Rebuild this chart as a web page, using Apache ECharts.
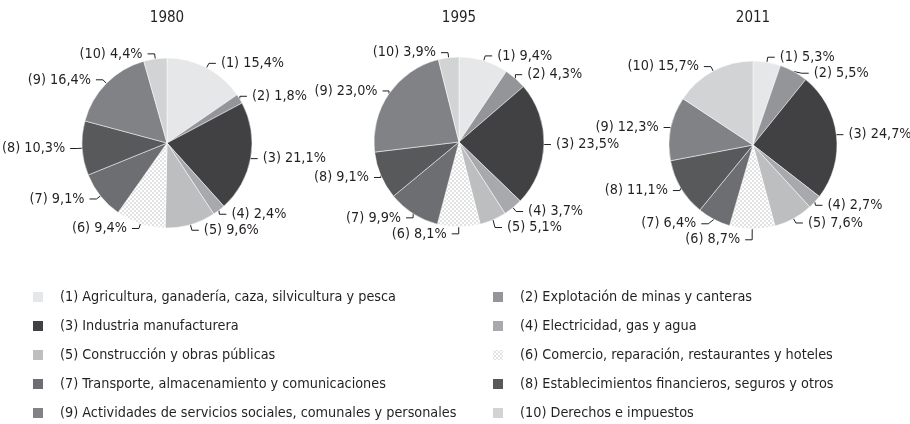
<!DOCTYPE html>
<html>
<head>
<meta charset="utf-8">
<script src="https://cdn.jsdelivr.net/npm/echarts@6/dist/echarts.min.js"></script>
<style>html,body{margin:0;padding:0;background:#fff;}#c{width:910px;height:424px;}</style>
</head>
<body>
<div id="c"></div>
<script>
const categories = [
  "(1) Agricultura, ganadería, caza, silvicultura y pesca",
  "(2) Explotación de minas y canteras",
  "(3) Industria manufacturera",
  "(4) Electricidad, gas y agua",
  "(5) Construcción y obras públicas",
  "(6) Comercio, reparación, restaurantes y hoteles",
  "(7) Transporte, almacenamiento y comunicaciones",
  "(8) Establecimientos financieros, seguros y otros",
  "(9) Actividades de servicios sociales, comunales y personales",
  "(10) Derechos e impuestos"
];
const years = ["1980", "1995", "2011"];
const values1980 = [15.4, 1.8, 21.1, 2.4, 9.6, 9.4, 9.1, 10.3, 16.4, 4.4];
const values1995 = [9.4, 4.3, 23.5, 3.7, 5.1, 8.1, 9.9, 9.1, 23.0, 3.9];
const values2011 = [5.3, 5.5, 24.7, 2.7, 7.6, 8.7, 6.4, 11.1, 12.3, 15.7];

const FONT = "'DejaVu Sans Condensed', 'Liberation Sans', sans-serif";
const TXT = '#231f20';
const FS = 14.3;

// checkered pattern for (6)
const pc = document.createElement('canvas');
pc.width = 4; pc.height = 4;
const pctx = pc.getContext('2d');
pctx.fillStyle = '#ffffff'; pctx.fillRect(0, 0, 4, 4);
pctx.fillStyle = '#e2e2e3';
pctx.fillRect(0, 0, 2, 2); pctx.fillRect(2, 2, 2, 2);
const pattern = { image: pc, repeat: 'repeat' };

const colors = ['#e6e7e8', '#939598', '#414042', '#a7a9ac', '#bcbec0', pattern, '#6d6e71', '#58595b', '#808285', '#d1d3d4'];

const centers = [[167, 143], [459, 142], [753, 145]];
const radii = [85, 85, 84];
const allValues = [values1980, values1995, values2011];

function fmt(p) {
  return '(' + (p.dataIndex + 1) + ') ' + p.value.toFixed(1).replace('.', ',') + '%';
}

const series = allValues.map((vals, si) => ({
  type: 'pie',
  center: centers[si],
  radius: radii[si],
  startAngle: 90,
  clockwise: true,
  animation: false,
  silent: true,
  data: vals.map((v, i) => ({ name: categories[i], value: v, itemStyle: { color: colors[i] } })),
  itemStyle: { borderColor: '#ffffff', borderWidth: 0.5 },
  label: { show: true, position: 'outside', formatter: fmt, color: TXT, fontFamily: FONT, fontSize: FS, overflow: 'none', width: 200 },
  labelLine: { show: true, length: 5, length2: 7, lineStyle: { color: TXT, width: 1 } }
}));

const legendBase = {
  orient: 'vertical', top: 289, height: 140, padding: 0, itemWidth: 12, itemHeight: 12, itemGap: 13,
  icon: 'rect', selectedMode: false,
  textStyle: { fontFamily: FONT, fontSize: FS, color: TXT, lineHeight: 16, padding: [0, 0, 0, 11] }
};

const option = {
  backgroundColor: '#ffffff',
  title: years.map((y, i) => ({
    text: y, left: centers[i][0], top: 11, textAlign: 'center', padding: 0,
    textStyle: { fontFamily: FONT, fontSize: 15, fontWeight: 'normal', color: TXT }
  })),
  legend: [
    Object.assign({}, legendBase, { left: 31, data: [0, 2, 4, 6, 8].map(i => categories[i]) }),
    Object.assign({}, legendBase, { left: 491, data: [1, 3, 5, 7, 9].map(i => categories[i]) })
  ],
  series: series
};

const chart = echarts.init(document.getElementById('c'), null, { renderer: 'canvas' });
chart.setOption(option);
</script>
</body>
</html>
